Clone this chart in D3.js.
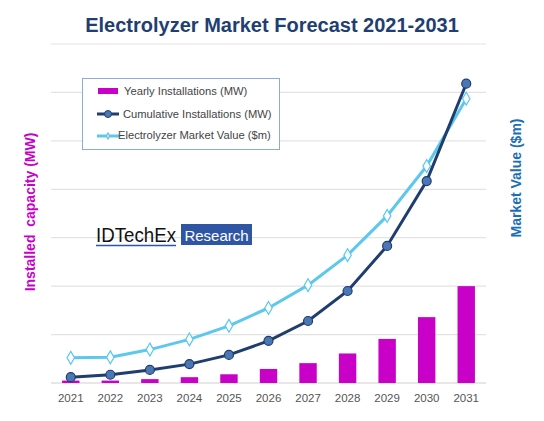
<!DOCTYPE html>
<html><head><meta charset="utf-8">
<script src="https://cdn.jsdelivr.net/npm/d3@7"></script>
<style>body{margin:0;background:#fff}text{font-family:Arial,"Liberation Sans",sans-serif}</style>
</head><body>
<svg width="544" height="421"></svg>
<script>
const years = ["2021","2022","2023","2024","2025","2026","2027","2028","2029","2030","2031"];
const yearly = [50, 50, 80, 120, 180, 290, 410, 610, 910, 1360, 2000];
const cumulative = [120, 170, 270, 390, 580, 870, 1280, 1900, 2830, 4170, 6180];
const marketValue = [520, 530, 690, 900, 1180, 1550, 2020, 2640, 3450, 4480, 5870];
const gridTicks = [0, 1000, 2000, 3000, 4000, 5000, 6000, 7000];

const svg = d3.select("svg");
const x = d3.scaleBand().domain(years).range([51, 486]).paddingInner(0.56).paddingOuter(0.28);
const y = d3.scaleLinear().domain([0, 7000]).range([383, 44]);
const cx = d => x(d) + x.bandwidth() / 2;

svg.append("g").selectAll("line").data(gridTicks).enter().append("line")
  .attr("x1", 51).attr("x2", 486).attr("y1", d => y(d)).attr("y2", d => y(d))
  .attr("stroke", d => d === 0 ? "#d0d0d0" : "#e3e3e3").attr("stroke-width", 1.2);

svg.append("g").selectAll("rect").data(yearly).enter().append("rect")
  .attr("x", (d, i) => x(years[i])).attr("width", x.bandwidth())
  .attr("y", d => y(d)).attr("height", d => y(0) - y(d)).attr("fill", "#c800c8");

const line = d3.line().x((d, i) => cx(years[i])).y(d => y(d));
svg.append("path").datum(marketValue).attr("d", line).attr("fill", "none")
  .attr("stroke", "#5bc8ec").attr("stroke-width", 3);
svg.append("g").selectAll("path").data(marketValue).enter().append("path")
  .attr("d", d3.symbol(d3.symbolDiamond, 48))
  .attr("transform", (d, i) => `translate(${cx(years[i])},${y(d)})`)
  .attr("fill", "#fff").attr("stroke", "#5bc8ec").attr("stroke-width", 1.2);

svg.append("path").datum(cumulative).attr("d", line).attr("fill", "none")
  .attr("stroke", "#1f3d6e").attr("stroke-width", 3);
svg.append("g").selectAll("circle").data(cumulative).enter().append("circle")
  .attr("cx", (d, i) => cx(years[i])).attr("cy", d => y(d)).attr("r", 4.5)
  .attr("fill", "#4a78b5").attr("stroke", "#1f3d6e").attr("stroke-width", 1.2);

svg.append("g").selectAll("text").data(years).enter().append("text")
  .attr("x", d => cx(d)).attr("y", 402).attr("text-anchor", "middle")
  .attr("font-size", 11.5).attr("fill", "#555").text(d => d);

svg.append("text").attr("x", 272).attr("y", 32).attr("text-anchor", "middle")
  .attr("font-size", 20).attr("font-weight", "bold").attr("fill", "#1f3f73")
  .text("Electrolyzer Market Forecast 2021-2031");

svg.append("text").attr("transform", "translate(35,212) rotate(-90)").attr("text-anchor", "middle")
  .attr("font-size", 14).attr("font-weight", "bold").attr("fill", "#c800c8")
  .attr("xml:space", "preserve").text("Installed  capacity (MW)");
svg.append("text").attr("transform", "translate(521,178) rotate(-90)").attr("text-anchor", "middle")
  .attr("font-size", 14).attr("font-weight", "bold").attr("fill", "#1a6fb5")
  .text("Market Value ($m)");

// legend
const lg = svg.append("g");
lg.append("rect").attr("x", 82.5).attr("y", 78.5).attr("width", 197).attr("height", 71)
  .attr("fill", "#fff").attr("stroke", "#8eaadb").attr("stroke-width", 1);
lg.append("rect").attr("x", 98).attr("y", 88).attr("width", 20).attr("height", 6).attr("fill", "#c800c8");
lg.append("line").attr("x1", 97).attr("x2", 119).attr("y1", 114).attr("y2", 114).attr("stroke", "#1f3d6e").attr("stroke-width", 3);
lg.append("circle").attr("cx", 108).attr("cy", 114).attr("r", 3.5).attr("fill", "#4a78b5").attr("stroke", "#1f3d6e");
lg.append("line").attr("x1", 97).attr("x2", 119).attr("y1", 136).attr("y2", 136).attr("stroke", "#5bc8ec").attr("stroke-width", 3);
lg.append("path").attr("d", d3.symbol(d3.symbolDiamond, 14)).attr("transform", "translate(108,136)").attr("fill", "#ccc").attr("stroke", "#5bc8ec");
[["Yearly Installations (MW)", 95, 124], ["Cumulative Installations (MW)", 118, 123], ["Electrolyzer Market Value ($m)", 139, 118]]
  .forEach(([t, yy, xx]) => lg.append("text").attr("x", xx).attr("y", yy).attr("font-size", 11.2).attr("fill", "#444").text(t));

// logo
svg.append("text").attr("x", 96).attr("y", 242).attr("font-size", 20).attr("fill", "#111")
  .attr("textLength", 80).attr("lengthAdjust", "spacingAndGlyphs").text("IDTechEx");
svg.append("line").attr("x1", 96).attr("x2", 176).attr("y1", 245.5).attr("y2", 245.5).attr("stroke", "#2f56a5").attr("stroke-width", 1.5);
svg.append("rect").attr("x", 181).attr("y", 224).attr("width", 71).attr("height", 21).attr("fill", "#2f56a5");
svg.append("text").attr("x", 216.5).attr("y", 241).attr("text-anchor", "middle").attr("font-size", 15).attr("fill", "#fff").text("Research");
</script>
</body></html>
